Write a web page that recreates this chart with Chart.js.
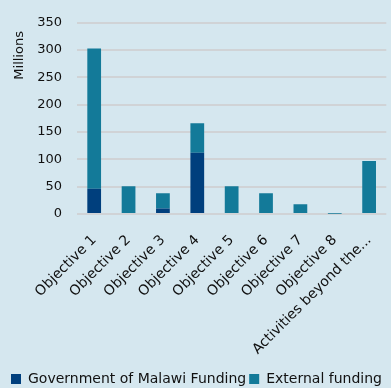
<!DOCTYPE html>
<html>
<head>
<meta charset="utf-8">
<script src="https://cdn.jsdelivr.net/npm/chart.js@4/dist/chart.umd.min.js"></script>
<style>
  html,body{margin:0;padding:0;background:#d5e7ef;}
  #wrap{width:391px;height:388px;position:relative;}
</style>
</head>
<body>
<div id="wrap"><canvas id="c" width="391" height="388"></canvas></div>
<script>
/* funding by objective, millions */
var categories = ['Objective 1','Objective 2','Objective 3','Objective 4','Objective 5','Objective 6','Objective 7','Objective 8','Activities beyond the...'];
var govFunding = [46, 0, 10, 112, 0, 0, 0, 0, 0];
var extFunding = [257, 51, 28, 54, 51, 38, 18, 0.6, 97];
var yTicks = [0, 50, 100, 150, 200, 250, 300, 350];

Chart.defaults.font.family = 'DejaVu Sans';
Chart.defaults.color = '#111';

new Chart(document.getElementById('c'), {
  type:'bar',
  data:{
    labels:categories,
    datasets:[
      {label:'Government of Malawi Funding', data:govFunding, backgroundColor:'#003f7d', barPercentage:0.4, categoryPercentage:1},
      {label:'External funding', data:extFunding, backgroundColor:'#137a99', barPercentage:0.4, categoryPercentage:1}
    ]
  },
  options:{
    responsive:false,
    animation:false,
    layout:{padding:{left:8,right:0,top:12,bottom:-8}},
    plugins:{
      legend:{position:'bottom', align:'start',
        labels:{font:{size:14}, boxWidth:10, boxHeight:10, padding:3, color:'#111'}},
      tooltip:{enabled:false}
    },
    scales:{
      x:{stacked:true,
        grid:{display:false},
        border:{display:false},
        ticks:{font:{size:14}, minRotation:45, maxRotation:45, autoSkip:false, padding:10, color:'#111'},
        afterFit:function(s){ s.height = 155; }
      },
      y:{stacked:true, min:0, max:350,
        title:{display:true, text:'Millions  ', align:'end', font:{size:13}, padding:{top:4,bottom:4}},
        grid:{color:'#d0d3d6', lineWidth:2, drawTicks:false},
        border:{display:false},
        afterBuildTicks:function(s){ s.ticks = yTicks.map(function(v){return {value:v};}); },
        afterFit:function(s){ s.width = 69; },
        ticks:{font:{size:13}, padding:15, color:'#111'}
      }
    }
  }
});
</script>
</body>
</html>
